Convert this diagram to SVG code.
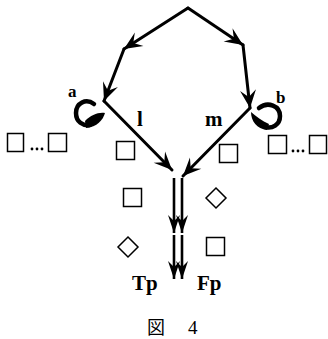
<svg xmlns="http://www.w3.org/2000/svg" width="328" height="339" viewBox="0 0 328 339">
<style>
.ln{fill:none;stroke:#000;stroke-width:3;stroke-linecap:round;marker-end:url(#ah)}
.v{fill:none;stroke:#000;stroke-width:2.6;marker-end:url(#ah2)}
.box{fill:none;stroke:#000;stroke-width:1.5}
.t{font-family:"Liberation Serif",serif;font-weight:bold;fill:#000}
.curl{fill:none;stroke:#000;stroke-width:4.5;stroke-linecap:round}
.dot{fill:#000}
</style>
<defs>
<marker id="ah" markerUnits="userSpaceOnUse" viewBox="-19 -9 20 18" refX="0" refY="0" markerWidth="20" markerHeight="18" orient="auto">
<path d="M0,0 L-18,-8 L-11,0 L-18,8 Z" fill="#000"/>
</marker>
<marker id="ah2" markerUnits="userSpaceOnUse" viewBox="-19 -9 20 18" refX="0" refY="0" markerWidth="20" markerHeight="18" orient="auto">
<path d="M0,0 L-18,-6 L-12,0 L-18,6 Z" fill="#000"/>
</marker>
</defs>
<g id="connectors">
<line class="ln" x1="188" y1="8" x2="124" y2="49"/>
<line class="ln" x1="124" y1="49" x2="104" y2="101"/>
<line class="ln" x1="104" y1="101" x2="172" y2="170"/>
<line class="ln" x1="188" y1="8" x2="243" y2="45"/>
<line class="ln" x1="243" y1="45" x2="250" y2="108"/>
<line class="ln" x1="250" y1="108" x2="183" y2="176"/>
<line class="v" x1="174" y1="178" x2="174" y2="233"/>
<line class="v" x1="174" y1="235" x2="174" y2="279"/>
<line class="v" x1="182" y1="178" x2="182" y2="233"/>
<line class="v" x1="182" y1="235" x2="182" y2="279"/>
</g>
<g id="curl-a">
<path class="curl" d="M94,104 C86,98 76,103 76,113 C76,122 83,126 90,125"/>
<path d="M85,121 C91,115 98,112 105,113 C103,120 97,127 86,128 Z" fill="#000"/>
<text class="t" x="68" y="97" font-size="17">a</text>
</g>
<g id="curl-b">
<path class="curl" d="M259,108 C268,101 280,106 280,116 C280,125 272,129 265,127"/>
<path d="M269,124 C262,121 256,116 251,112 C251,121 257,129 267,130 Z" fill="#000"/>
<text class="t" x="276" y="103" font-size="17">b</text>
</g>
<g id="label-l"><text class="t" x="137" y="126" font-size="21">l</text></g>
<g id="label-m"><text class="t" x="205" y="126" font-size="21">m</text></g>
<g id="left-group">
<rect class="box" x="7.5" y="133.5" width="16" height="18"/>
<circle class="dot" cx="32" cy="149" r="1.4"/>
<circle class="dot" cx="37" cy="149" r="1.4"/>
<circle class="dot" cx="42" cy="149" r="1.4"/>
<rect class="box" x="48.5" y="133.5" width="18" height="18"/>
</g>
<g id="right-group">
<rect class="box" x="268.5" y="135.5" width="18" height="18"/>
<circle class="dot" cx="293" cy="151" r="1.4"/>
<circle class="dot" cx="298" cy="151" r="1.4"/>
<circle class="dot" cx="303" cy="151" r="1.4"/>
<rect class="box" x="309.5" y="135.5" width="17" height="18"/>
</g>
<g id="sq1"><rect class="box" x="116.5" y="141.5" width="18" height="18"/></g>
<g id="sq2"><rect class="box" x="123.5" y="188.5" width="18" height="18"/></g>
<g id="sq3"><rect class="box" x="219.5" y="144.5" width="18" height="18"/></g>
<g id="sq4"><rect class="box" x="206.5" y="237.5" width="18" height="18"/></g>
<g id="dia1"><path class="box" d="M128,237 L138,247 L128,257 L118,247 Z"/></g>
<g id="dia2"><path class="box" d="M216,188 L226,198 L216,208 L206,198 Z"/></g>
<g id="Tp"><text class="t" x="132" y="290" font-size="21">Tp</text></g>
<g id="Fp"><text class="t" x="197" y="290" font-size="21">Fp</text></g>
<g id="caption">
<text x="147" y="334" font-size="18" font-family="'Noto Sans CJK JP',sans-serif" fill="#000">図</text>
<text x="188" y="334" font-size="19" font-family="'Liberation Serif',serif" fill="#000">4</text>
</g>
</svg>
